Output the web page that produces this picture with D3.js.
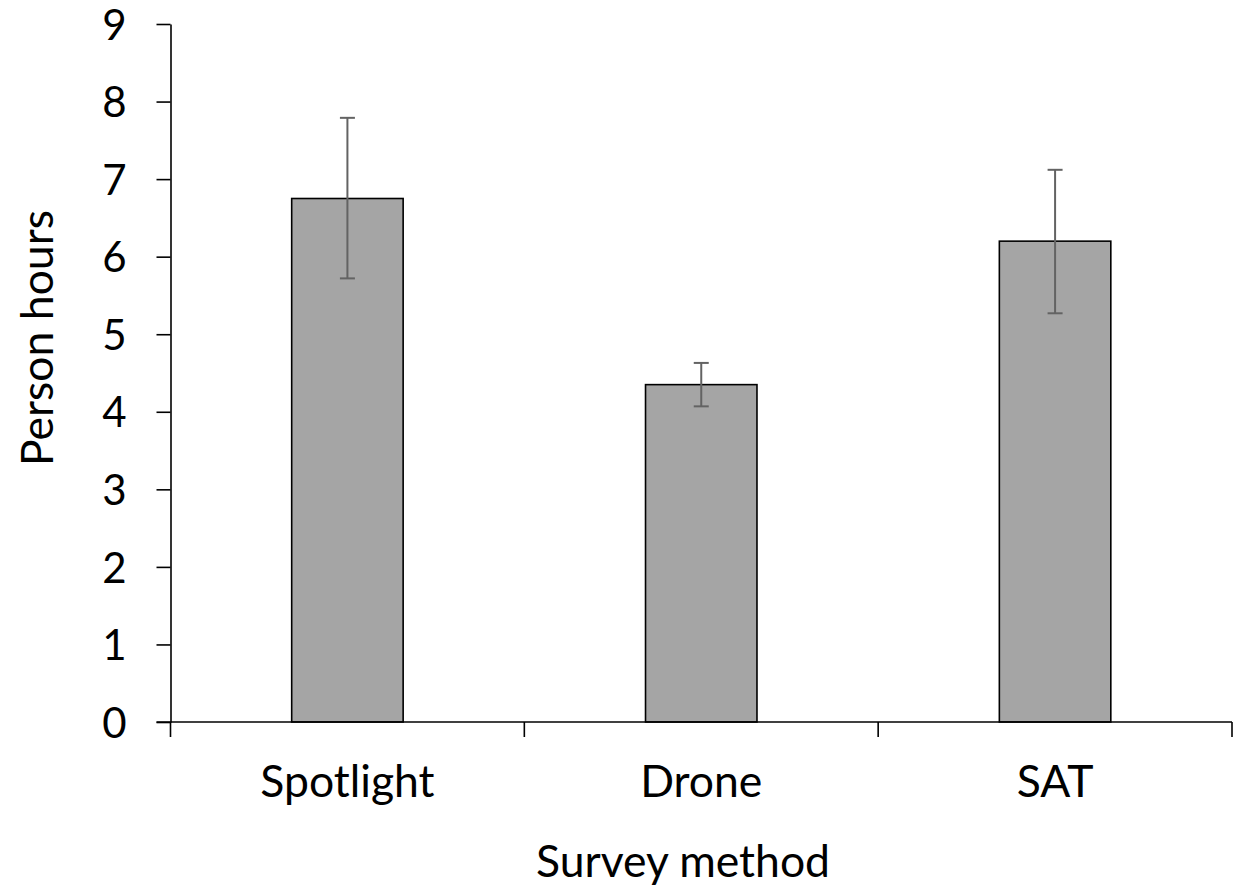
<!DOCTYPE html>
<html><head><meta charset="utf-8">
<script src="https://cdn.jsdelivr.net/npm/d3@7"></script>
<style>body{margin:0;background:#fff}svg{display:block}text{font-family:Lato,"Open Sans",sans-serif;fill:#000}</style>
</head><body>
<svg id="c" width="1243" height="890"></svg>
<script>
const categories = ["Spotlight", "Drone", "SAT"];
const means = [6.75, 4.35, 6.20];
const errLow = [5.72, 4.07, 5.27];
const errHigh = [7.79, 4.63, 7.12];
const yTicks = [0,1,2,3,4,5,6,7,8,9];

const svg = d3.select("#c");
const L = 170.5, R = 1232, T = 24, B = 722;
const x = d3.scaleBand().domain(categories).range([L, R]).paddingInner(0.685).paddingOuter(0.3425);
const y = d3.scaleLinear().domain([0, 9]).range([B, T]);

const data = categories.map((c,i)=>({c, v:means[i], lo:errLow[i], hi:errHigh[i]}));

// bars
svg.selectAll("rect.bar").data(data).join("rect")
  .attr("x", d=>x(d.c)).attr("width", x.bandwidth())
  .attr("y", d=>y(d.v)).attr("height", d=>y(0)-y(d.v))
  .attr("fill", "#a5a5a5").attr("stroke", "#000").attr("stroke-width", 1.6);

// error bars
const eg = svg.append("g").attr("stroke", "#636363").attr("stroke-width", 2);
data.forEach(d=>{
  const cx = x(d.c) + x.bandwidth()/2;
  eg.append("line").attr("x1", cx).attr("x2", cx).attr("y1", y(d.hi)).attr("y2", y(d.lo));
  eg.append("line").attr("x1", cx-7.5).attr("x2", cx+7.5).attr("y1", y(d.hi)).attr("y2", y(d.hi));
  eg.append("line").attr("x1", cx-7.5).attr("x2", cx+7.5).attr("y1", y(d.lo)).attr("y2", y(d.lo));
});

// y axis
const ya = svg.append("g").attr("transform", `translate(${L},0)`)
  .call(d3.axisLeft(y).tickValues(yTicks).tickFormat(d3.format("d")).tickSize(14).tickSizeOuter(0).tickPadding(30));
ya.select(".domain").attr("stroke", "#000").attr("stroke-width", 1.6);
ya.selectAll(".tick line").attr("stroke", "#000").attr("stroke-width", 1.6);
ya.selectAll(".tick text").attr("font-size", 42).attr("font-family", "Lato").attr("fill", "#000").attr("dy", "0.36em");

// x axis
const xa = svg.append("g").attr("transform", `translate(0,${B})`)
  .call(d3.axisBottom(x).tickSize(0));
xa.select(".domain").remove();
xa.selectAll(".tick text").attr("font-size", 44.5).attr("font-family", "Lato").attr("fill", "#000")
  .attr("y", 75).attr("dy", 0);
svg.append("line").attr("x1", L-14).attr("x2", R).attr("y1", B).attr("y2", B)
  .attr("stroke", "#000").attr("stroke-width", 1.6);
const step = x.step();
const bounds = d3.range(categories.length+1).map(i => L + i*step);
svg.selectAll("line.xt").data(bounds).join("line")
  .attr("x1", d=>d).attr("x2", d=>d).attr("y1", B).attr("y2", B+15)
  .attr("stroke", "#000").attr("stroke-width", 1.6);

// axis titles
svg.append("text").attr("x", 683).attr("y", 877).attr("text-anchor", "middle")
  .attr("font-size", 44.5).text("Survey method");
svg.append("text").attr("transform", "translate(53,338) rotate(-90)").attr("text-anchor", "middle")
  .attr("font-size", 44.5).text("Person hours");
</script>
</body></html>
